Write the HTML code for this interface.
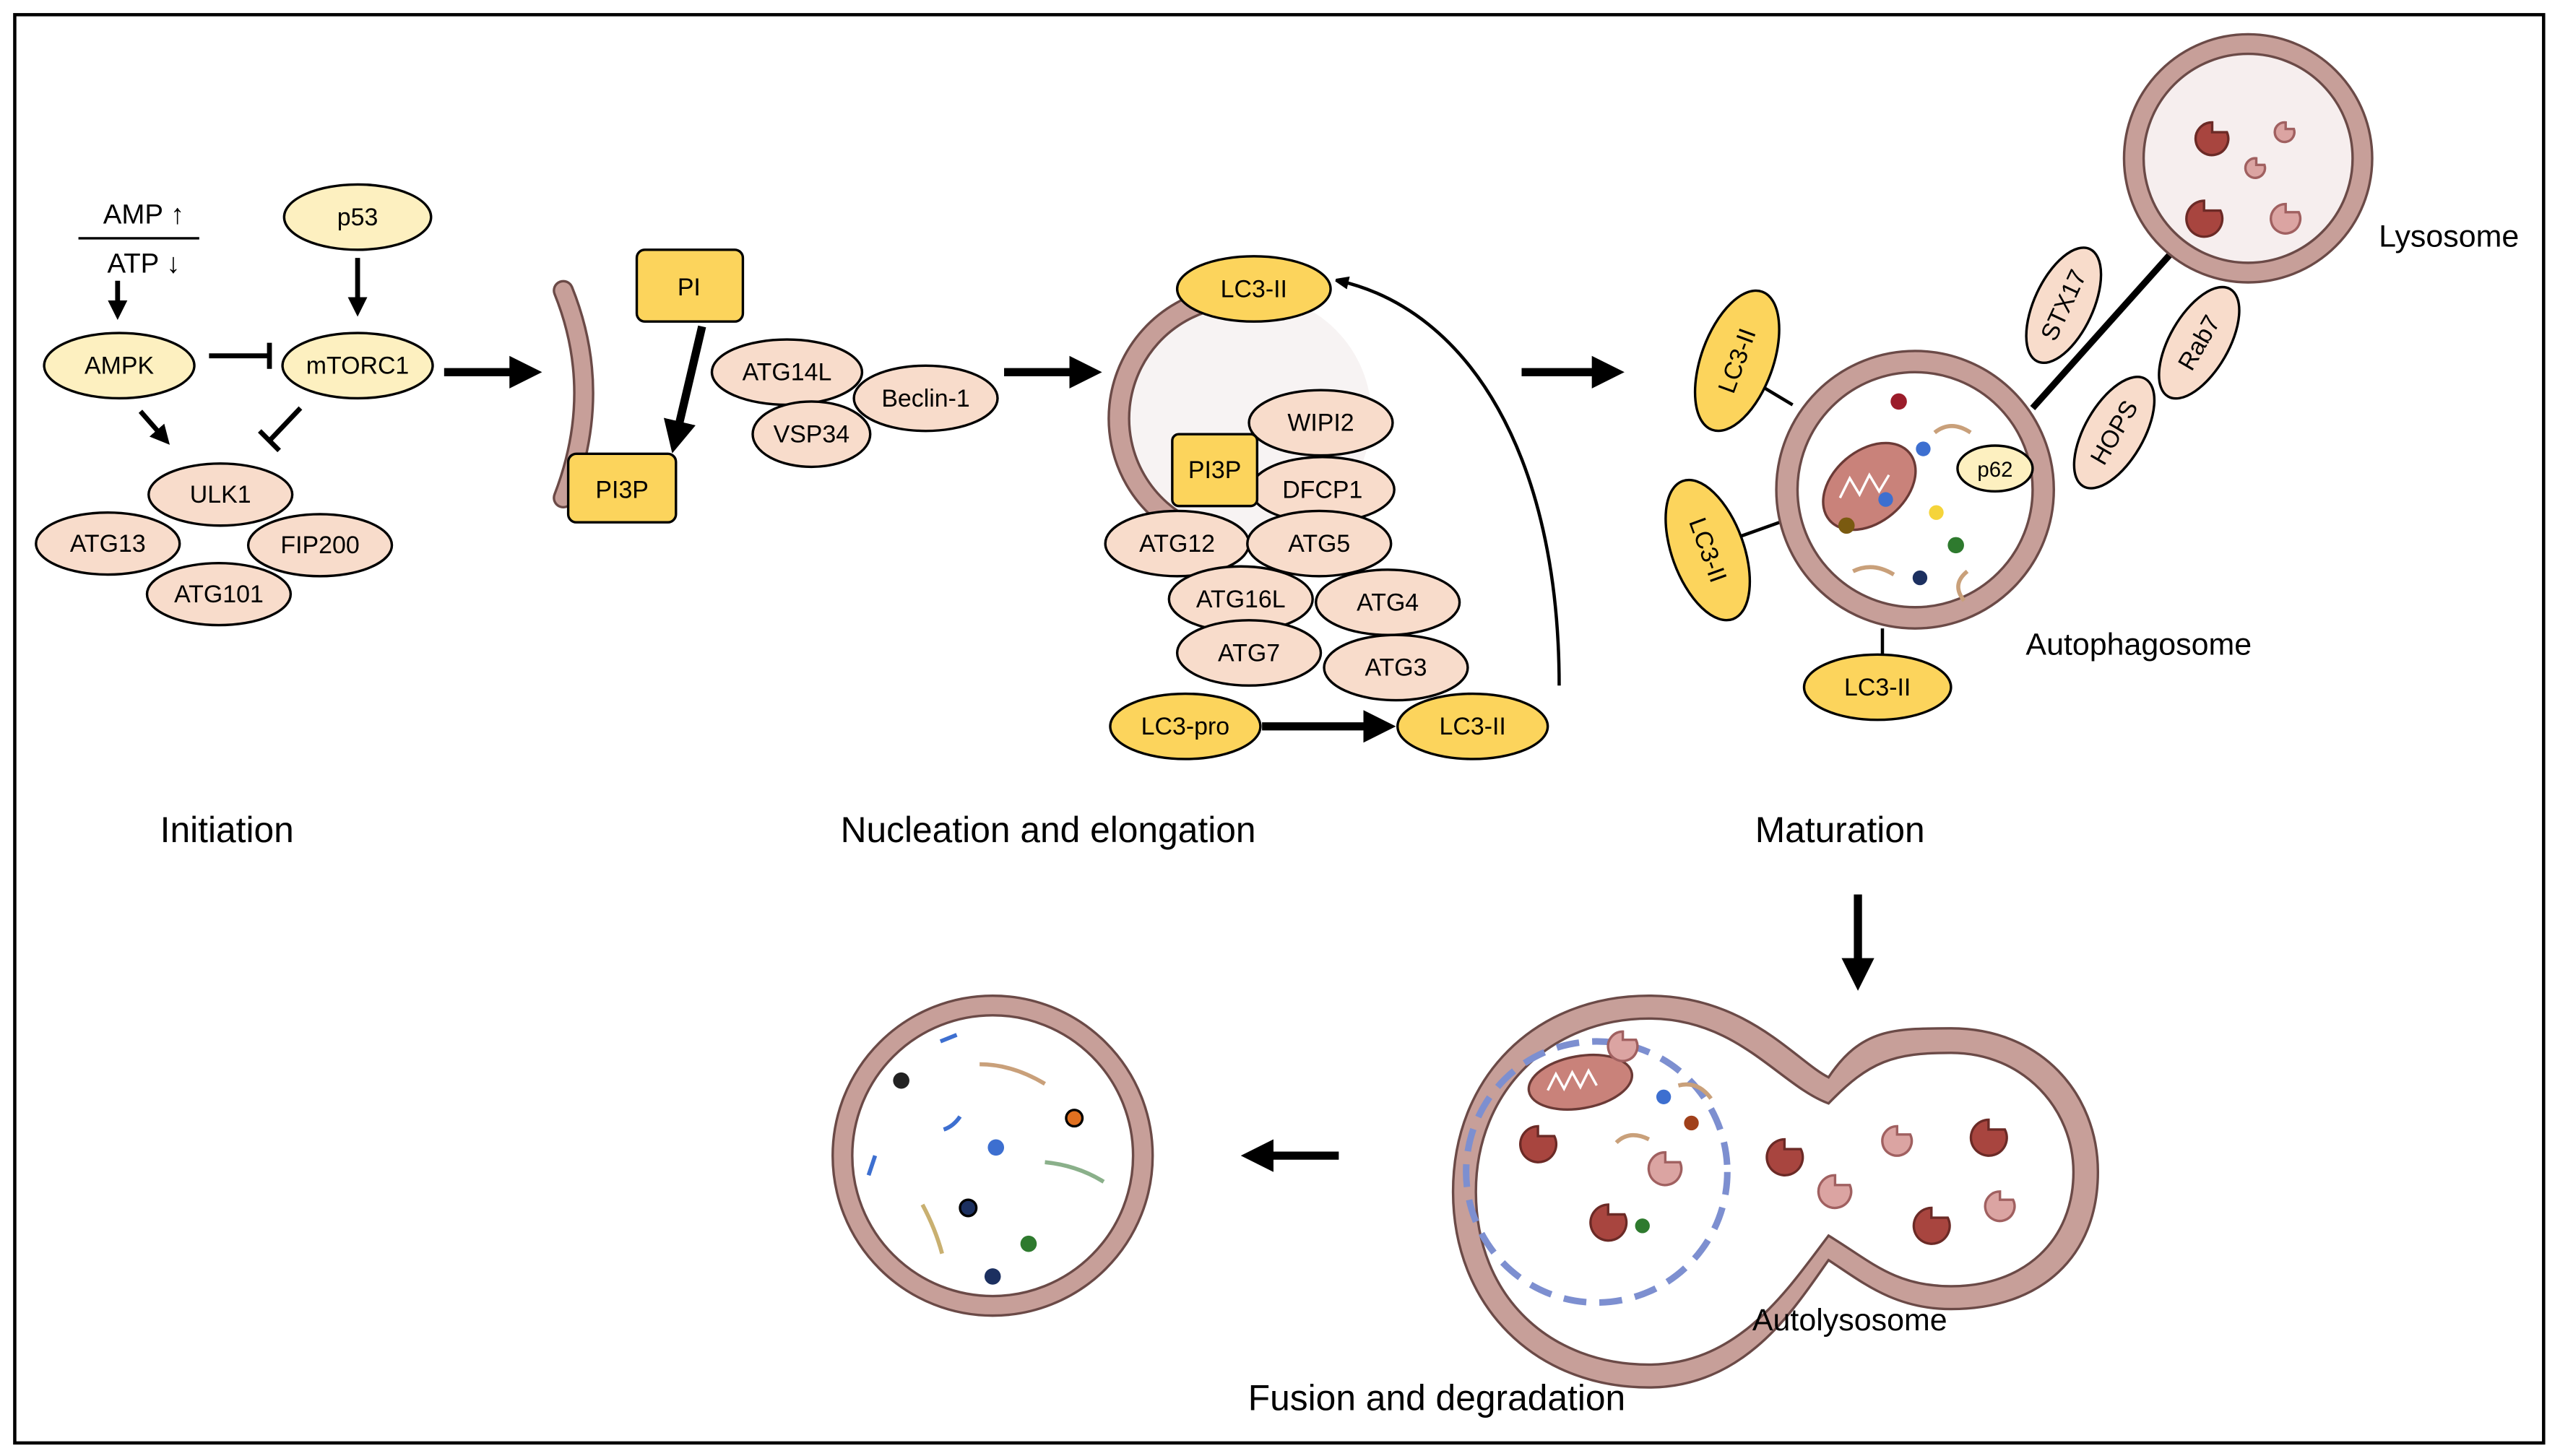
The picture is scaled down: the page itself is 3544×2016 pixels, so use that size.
<!DOCTYPE html>
<html><head><meta charset="utf-8"><style>
html,body{margin:0;padding:0;background:#fff}
svg{display:block}
text{font-family:"Liberation Sans",sans-serif;}
</style></head><body>
<svg width="3544" height="2016" viewBox="0 0 1568 892" xmlns="http://www.w3.org/2000/svg">
<defs>
<marker id="ah" markerWidth="4" markerHeight="4" refX="2" refY="2" orient="auto" markerUnits="strokeWidth"><path d="M0,0 L4,2 L0,4 z" fill="#000"/></marker>
<marker id="ah2" markerWidth="8" markerHeight="8" refX="6" refY="4" orient="auto" markerUnits="userSpaceOnUse"><path d="M0,0 L10,4 L0,8 z" fill="#000"/></marker>
</defs>
<rect x="0" y="0" width="1568" height="892" fill="#fff"/>
<rect x="9" y="9" width="1549" height="875" fill="none" stroke="#000" stroke-width="2"/>

<g font-size="15" text-anchor="middle" stroke-width="1.5">
<text x="88" y="137" font-size="17">AMP ↑</text>
<line x1="48" y1="146" x2="122" y2="146" stroke="#000" stroke-width="1.5"/>
<text x="88" y="167" font-size="17">ATP ↓</text>
<line x1="72" y1="172" x2="72" y2="190" stroke="#000" stroke-width="3" marker-end="url(#ah)"/>
<ellipse cx="219" cy="133" rx="45" ry="20" fill="#fdf0c0" stroke="#000"/><text x="219" y="138">p53</text>
<line x1="219" y1="158" x2="219" y2="188" stroke="#000" stroke-width="3" marker-end="url(#ah)"/>
<ellipse cx="73" cy="224" rx="46" ry="20" fill="#fdf0c0" stroke="#000"/><text x="73" y="229">AMPK</text>
<ellipse cx="219" cy="224" rx="46" ry="20" fill="#fdf0c0" stroke="#000"/><text x="219" y="229">mTORC1</text>
<line x1="128" y1="218" x2="165" y2="218" stroke="#000" stroke-width="3"/><line x1="165" y1="210" x2="165" y2="226" stroke="#000" stroke-width="3"/>
<line x1="86" y1="252" x2="100" y2="268" stroke="#000" stroke-width="3" marker-end="url(#ah)"/>
<line x1="184" y1="250" x2="165" y2="270" stroke="#000" stroke-width="3"/><line x1="159" y1="264" x2="171" y2="276" stroke="#000" stroke-width="3"/>
<ellipse cx="66" cy="333" rx="44" ry="19" fill="#f8dccb" stroke="#000"/><text x="66" y="338">ATG13</text>
<ellipse cx="196" cy="334" rx="44" ry="19" fill="#f8dccb" stroke="#000"/><text x="196" y="339">FIP200</text>
<ellipse cx="135" cy="303" rx="44" ry="19" fill="#f8dccb" stroke="#000"/><text x="135" y="308">ULK1</text>
<ellipse cx="134" cy="364" rx="44" ry="19" fill="#f8dccb" stroke="#000"/><text x="134" y="369">ATG101</text>
<line x1="272" y1="228" x2="322" y2="228" stroke="#000" stroke-width="5" marker-end="url(#ah)"/>

<path d="M345,178 Q370,240 345,305" fill="none" stroke="#6b4a47" stroke-width="13" stroke-linecap="round"/>
<path d="M345,178 Q370,240 345,305" fill="none" stroke="#c79f99" stroke-width="10" stroke-linecap="round"/>
<rect x="390" y="153" width="65" height="44" rx="5" fill="#fcd45c" stroke="#000"/><text x="422" y="181">PI</text>
<line x1="430" y1="200" x2="414" y2="268" stroke="#000" stroke-width="5" marker-end="url(#ah)"/>
<rect x="348" y="278" width="66" height="42" rx="5" fill="#fcd45c" stroke="#000"/><text x="381" y="305">PI3P</text>
<ellipse cx="567" cy="244" rx="44" ry="20" fill="#f8dccb" stroke="#000"/><text x="567" y="249">Beclin-1</text>
<ellipse cx="482" cy="228" rx="46" ry="20" fill="#f8dccb" stroke="#000"/><text x="482" y="233">ATG14L</text>
<ellipse cx="497" cy="266" rx="36" ry="20" fill="#f8dccb" stroke="#000"/><text x="497" y="271">VSP34</text>
<line x1="615" y1="228" x2="665" y2="228" stroke="#000" stroke-width="5" marker-end="url(#ah)"/>

<circle cx="765" cy="255" r="75" fill="#f7f3f3"/>
<path d="M745,183 A75,75 0 0 0 730,325" fill="none" stroke="#6b4a47" stroke-width="14" stroke-linecap="round"/>
<path d="M745,183 A75,75 0 0 0 730,325" fill="none" stroke="#c79f99" stroke-width="11" stroke-linecap="round"/>
<ellipse cx="768" cy="177" rx="47" ry="20" fill="#fcd45c" stroke="#000"/><text x="768" y="182">LC3-II</text>
<ellipse cx="809" cy="259" rx="44" ry="20" fill="#f8dccb" stroke="#000"/><text x="809" y="264">WIPI2</text>
<ellipse cx="810" cy="300" rx="44" ry="20" fill="#f8dccb" stroke="#000"/><text x="810" y="305">DFCP1</text>
<rect x="718" y="266" width="52" height="44" rx="4" fill="#fcd45c" stroke="#000"/><text x="744" y="293">PI3P</text>
<ellipse cx="721" cy="333" rx="44" ry="20" fill="#f8dccb" stroke="#000"/><text x="721" y="338">ATG12</text>
<ellipse cx="808" cy="333" rx="44" ry="20" fill="#f8dccb" stroke="#000"/><text x="808" y="338">ATG5</text>
<ellipse cx="760" cy="367" rx="44" ry="20" fill="#f8dccb" stroke="#000"/><text x="760" y="372">ATG16L</text>
<ellipse cx="850" cy="369" rx="44" ry="20" fill="#f8dccb" stroke="#000"/><text x="850" y="374">ATG4</text>
<ellipse cx="765" cy="400" rx="44" ry="20" fill="#f8dccb" stroke="#000"/><text x="765" y="405">ATG7</text>
<ellipse cx="855" cy="409" rx="44" ry="20" fill="#f8dccb" stroke="#000"/><text x="855" y="414">ATG3</text>
<ellipse cx="726" cy="445" rx="46" ry="20" fill="#fcd45c" stroke="#000"/><text x="726" y="450">LC3-pro</text>
<ellipse cx="902" cy="445" rx="46" ry="20" fill="#fcd45c" stroke="#000"/><text x="902" y="450">LC3-II</text>
<line x1="773" y1="445" x2="845" y2="445" stroke="#000" stroke-width="5" marker-end="url(#ah)"/>
<path d="M955,420 C955,280 900,190 820,172" fill="none" stroke="#000" stroke-width="2" marker-end="url(#ah2)"/>
<line x1="932" y1="228" x2="985" y2="228" stroke="#000" stroke-width="5" marker-end="url(#ah)"/>

<line x1="1245" y1="250" x2="1330" y2="155" stroke="#000" stroke-width="4"/>
<line x1="1098" y1="248" x2="1078" y2="236" stroke="#000" stroke-width="2"/>
<line x1="1090" y1="320" x2="1062" y2="330" stroke="#000" stroke-width="2"/>
<line x1="1153" y1="385" x2="1153" y2="402" stroke="#000" stroke-width="2"/>
<circle cx="1173" cy="300" r="85" fill="#c79f99" stroke="#6b4a47" stroke-width="1.5"/>
<circle cx="1173" cy="300" r="72" fill="#fff" stroke="#6b4a47" stroke-width="1.5"/>
<ellipse cx="1145" cy="298" rx="32" ry="22" transform="rotate(-40 1145 298)" fill="#c9827a" stroke="#6b3a36"/>
<path d="M1127,305 l6,-12 l6,10 l6,-12 l6,10 l6,-10" fill="none" stroke="#fff" stroke-width="1.5"/>
<ellipse cx="1222" cy="287" rx="23" ry="14" fill="#fdf0c0" stroke="#000"/><text x="1222" y="292" font-size="13">p62</text>
<path d="M1185,265 q10,-8 22,0" fill="none" stroke="#c9a07a" stroke-width="2.5"/>
<path d="M1135,350 q12,-6 25,2" fill="none" stroke="#c9a07a" stroke-width="2.5"/>
<path d="M1205,350 q-10,8 -2,18" fill="none" stroke="#c9a07a" stroke-width="2.5"/>
<circle cx="1163" cy="246" r="5" fill="#9b1c2a"/><circle cx="1178" cy="275" r="4.5" fill="#3d6fd0"/>
<circle cx="1155" cy="306" r="4.5" fill="#3d6fd0"/><circle cx="1131" cy="322" r="5" fill="#7a5a10"/>
<circle cx="1186" cy="314" r="4.5" fill="#f5d43a"/><circle cx="1198" cy="334" r="5" fill="#2e7a2e"/>
<circle cx="1176" cy="354" r="4.5" fill="#1c3060"/>
<g transform="rotate(-70 1064 221)"><ellipse cx="1064" cy="221" rx="45" ry="22" fill="#fcd45c" stroke="#000"/><text x="1064" y="226">LC3-II</text></g>
<g transform="rotate(70 1046 337)"><ellipse cx="1046" cy="337" rx="45" ry="22" fill="#fcd45c" stroke="#000"/><text x="1046" y="342">LC3-II</text></g>
<ellipse cx="1150" cy="421" rx="45" ry="20" fill="#fcd45c" stroke="#000"/><text x="1150" y="426">LC3-II</text>
<g transform="rotate(-65 1264 187)"><ellipse cx="1264" cy="187" rx="38" ry="18" fill="#f8dccb" stroke="#000"/><text x="1264" y="192">STX17</text></g>
<g transform="rotate(-60 1295 265)"><ellipse cx="1295" cy="265" rx="38" ry="18" fill="#f8dccb" stroke="#000"/><text x="1295" y="270">HOPS</text></g>
<g transform="rotate(-60 1347 210)"><ellipse cx="1347" cy="210" rx="38" ry="18" fill="#f8dccb" stroke="#000"/><text x="1347" y="215">Rab7</text></g>
<circle cx="1377" cy="97" r="76" fill="#c79f99" stroke="#6b4a47" stroke-width="1.5"/>
<circle cx="1377" cy="97" r="64" fill="#f6eeee" stroke="#6b4a47" stroke-width="1.5"/>
<text x="1500" y="151" font-size="19">Lysosome</text>
<text x="1310" y="401" font-size="19">Autophagosome</text>

<text x="139" y="516" font-size="22">Initiation</text>
<text x="642" y="516" font-size="22">Nucleation and elongation</text>
<text x="1127" y="516" font-size="22">Maturation</text>
<line x1="1138" y1="548" x2="1138" y2="597" stroke="#000" stroke-width="5" marker-end="url(#ah)"/>

<path d="M1010,610 C1070,610 1100,650 1120,660 C1140,630 1160,630 1195,630 C1250,630 1285,670 1285,718 C1285,770 1250,802 1195,802 C1160,802 1140,785 1120,772 C1100,800 1070,850 1010,850 C940,850 890,800 890,730 C890,660 940,610 1010,610 Z" fill="#c79f99" stroke="#6b4a47" stroke-width="1.5"/>
<path d="M1010,624 C1065,624 1090,665 1120,676 C1145,650 1160,645 1195,645 C1240,645 1270,680 1270,718 C1270,760 1240,788 1195,788 C1160,788 1145,772 1120,757 C1095,790 1065,836 1010,836 C950,836 904,795 904,730 C904,668 950,624 1010,624 Z" fill="#fff" stroke="#6b4a47" stroke-width="1.5"/>
<circle cx="978" cy="718" r="80" fill="none" stroke="#7d8fd0" stroke-width="4" stroke-dasharray="14,8"/>
<ellipse cx="968" cy="663" rx="32" ry="16" transform="rotate(-10 968 663)" fill="#c9827a" stroke="#6b3a36"/>
<path d="M948,668 l5,-10 l5,9 l5,-10 l5,9 l5,-10 l5,9" fill="none" stroke="#fff" stroke-width="1.5"/>
<circle cx="1019" cy="672" r="4.5" fill="#3d6fd0"/><circle cx="1036" cy="688" r="4.5" fill="#a0401a"/><circle cx="1006" cy="751" r="4.5" fill="#2e7a2e"/>
<path d="M1028,665 q12,-3 20,8" fill="none" stroke="#c9a07a" stroke-width="2.5"/>
<path d="M990,700 q8,-8 20,-2" fill="none" stroke="#c9a07a" stroke-width="2.5"/>
<g fill="#a8453f" stroke="#6b2a26">
<path d="M942,690 m0,0 a11,11 0 1 0 10,6 l-10,0 z"/>
<path d="M985,738 a11,11 0 1 0 10,6 l-10,0 z"/>
<path d="M1093,698 a11,11 0 1 0 10,6 l-10,0 z"/>
<path d="M1218,686 a11,11 0 1 0 10,6 l-10,0 z"/>
<path d="M1183,740 a11,11 0 1 0 10,6 l-10,0 z"/>
<path d="M1350,123 a11,11 0 1 0 10,6 l-10,0 z"/>
<path d="M1355,75 a10,10 0 1 0 9,6 l-9,0 z"/>
</g>
<g fill="#dba4a2" stroke="#a06060">
<path d="M994,632 a9,9 0 1 0 8,5 l-8,0 z"/>
<path d="M1020,706 a10,10 0 1 0 9,6 l-9,0 z"/>
<path d="M1124,720 a10,10 0 1 0 9,6 l-9,0 z"/>
<path d="M1162,690 a9,9 0 1 0 8,5 l-8,0 z"/>
<path d="M1225,730 a9,9 0 1 0 8,5 l-8,0 z"/>
<path d="M1400,125 a9,9 0 1 0 8,5 l-8,0 z"/>
<path d="M1382,97 a6,6 0 1 0 5,4 l-5,0 z"/>
<path d="M1400,75 a6,6 0 1 0 5,4 l-5,0 z"/>
</g>
<text x="1133" y="815" font-size="19">Autolysosome</text>
<line x1="820" y1="708" x2="770" y2="708" stroke="#000" stroke-width="5" marker-end="url(#ah)"/>

<circle cx="608" cy="708" r="98" fill="#c79f99" stroke="#6b4a47" stroke-width="1.5"/>
<circle cx="608" cy="708" r="86" fill="#fff" stroke="#6b4a47" stroke-width="1.5"/>
<path d="M600,652 q20,0 40,12" fill="none" stroke="#c9a07a" stroke-width="2.5"/>
<path d="M640,712 q20,2 36,12" fill="none" stroke="#8ab08a" stroke-width="2.5"/>
<path d="M565,738 q8,15 12,30" fill="none" stroke="#c9b070" stroke-width="2.5"/>
<path d="M576,638 l10,-4" stroke="#3d6fd0" stroke-width="2.5"/>
<path d="M578,692 q6,-2 10,-8" fill="none" stroke="#3d6fd0" stroke-width="2.5"/>
<path d="M536,708 l-4,12" stroke="#3d6fd0" stroke-width="2.5"/>
<circle cx="552" cy="662" r="5" fill="#222"/><circle cx="658" cy="685" r="5" fill="#e07020" stroke="#000"/>
<circle cx="610" cy="703" r="5" fill="#3d6fd0"/><circle cx="593" cy="740" r="5" fill="#1c3060" stroke="#000"/>
<circle cx="630" cy="762" r="5" fill="#2e7a2e"/><circle cx="608" cy="782" r="5" fill="#1c3060"/>
<text x="880" y="864" font-size="22">Fusion and degradation</text>
</g>
</svg>
</body></html>
